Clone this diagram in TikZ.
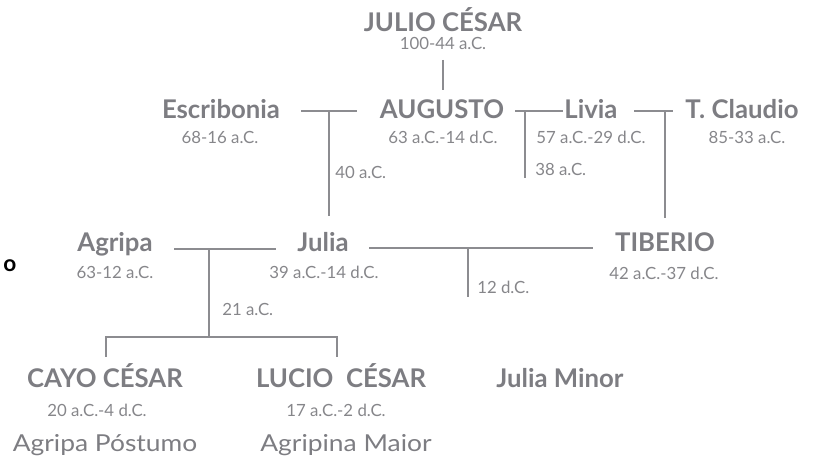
\documentclass[tikz,border=0pt]{standalone}
\usepackage{fontspec}
\setmainfont{Lato}
\newfontfamily\heirfont{Lato}[FakeStretch=1.13]
\usepackage{tikz}
\definecolor{linegray}{HTML}{8C8C90}
\definecolor{namegray}{HTML}{7D7D82}
\definecolor{dategray}{HTML}{86868A}

\begin{document}
\begin{tikzpicture}[x=0.75pt, y=-0.75pt,
		person/.style={anchor=base, inner sep=0pt, text=namegray, font=\fontsize{19.3}{22}\selectfont\bfseries},
		heir/.style={anchor=base, inner sep=0pt, text=namegray, font=\heirfont\fontsize{17.5}{20}\selectfont},
		dates/.style={anchor=base, inner sep=0pt, text=dategray, font=\fontsize{12.6}{15}\selectfont},
		wedyear/.style={anchor=base west, inner sep=0pt, text=dategray, font=\fontsize{12.6}{15}\selectfont},
		link/.style={draw=linegray, line width=1.5pt}]
		\useasboundingbox (0,0) rectangle (819,459);
		
		% draw names
		\node[person] (julio) at (443,32) {JULIO CÉSAR};
		\node[person] (escribonia) at (221,119) {Escribonia};
		\node[person] (augusto) at (442,119) {AUGUSTO};
		\node[person] (livia) at (591,119) {Livia};
		\node[person] (claudio) at (742,119) {T. Claudio};
		\node[person] (agripa) at (115,252) {Agripa};
		\node[person] (julia) at (323,252) {Julia};
		\node[person] (tiberio) at (665,252) {TIBERIO};
		\node[person] (cayo) at (105,388) {CAYO CÉSAR};
		\node[person] (lucio) at (341,388) {LUCIO\ \ CÉSAR};
		\node[person] (minor) at (560,388) {Julia Minor};
		\node[heir] (postumo) at (105,452) {Agripa Póstumo};
		\node[heir] (agripina) at (346,452) {Agripina Maior};
		\node[anchor=base, inner sep=0pt, font=\fontsize{17}{20}\selectfont\bfseries] (mark) at (10,272) {o};
		
		% draw dates
		\node[dates] (julioD) at (443,50) {100-44 a.C.};
		\node[dates] (escriboniaD) at (220,144) {68-16 a.C.};
		\node[dates] (augustoD) at (443,144) {63 a.C.-14 d.C.};
		\node[dates] (liviaD) at (591,144) {57 a.C.-29 d.C.};
		\node[dates] (claudioD) at (747,144) {85-33 a.C.};
		\node[dates] (agripaD) at (115,279) {63-12 a.C.};
		\node[dates] (juliaD) at (324,279) {39 a.C.-14 d.C.};
		\node[dates] (tiberioD) at (664,280) {42 a.C.-37 d.C.};
		\node[dates] (cayoD) at (97,417) {20 a.C.-4 d.C.};
		\node[dates] (lucioD) at (336,417) {17 a.C.-2 d.C.};
		
		% draw wedding years
		\node[wedyear] (wedEA) at (335,179) {40 a.C.};
		\node[wedyear] (wedAL) at (535,176) {38 a.C.};
		\node[wedyear] (wedAJ) at (222,316) {21 a.C.};
		\node[wedyear] (wedJT) at (477,294) {12 d.C.};
		
		% line ends
		\coordinate (jcTop) at (443,60);
		\coordinate (jcBot) at (443,90);
		\coordinate (eaL) at (301,111);
		\coordinate (eaR) at (357,111);
		\coordinate (eaM) at (329,111);
		\coordinate (eaD) at (329,216);
		\coordinate (alL) at (515,111);
		\coordinate (alR) at (563,111);
		\coordinate (alM) at (525,111);
		\coordinate (alD) at (525,178);
		\coordinate (lcL) at (634,111);
		\coordinate (lcR) at (673,111);
		\coordinate (lcM) at (665,111);
		\coordinate (lcD) at (665,218);
		\coordinate (ajL) at (174,249);
		\coordinate (ajR) at (276,249);
		\coordinate (ajM) at (209,249);
		\coordinate (ajD) at (209,337);
		\coordinate (jtL) at (369,248);
		\coordinate (jtR) at (593,248);
		\coordinate (jtM) at (468,248);
		\coordinate (jtD) at (468,297);
		\coordinate (cayoBar) at (106,337);
		\coordinate (cayoTop) at (106,357);
		\coordinate (lucioBar) at (337,337);
		\coordinate (lucioTop) at (337,357);
		
		% draw marriage lines
		\draw[link] (jcTop) -- (jcBot);
		\foreach \m in {ea,al,lc,aj,jt}
		{
			\draw[link] (\m L) -- (\m R);
			\draw[link] (\m M) -- (\m D);
		}
		
		% draw children bar
		\draw[link] (cayoTop) -- (cayoBar) -- (lucioBar) -- (lucioTop);
		
\end{tikzpicture}
\end{document}
